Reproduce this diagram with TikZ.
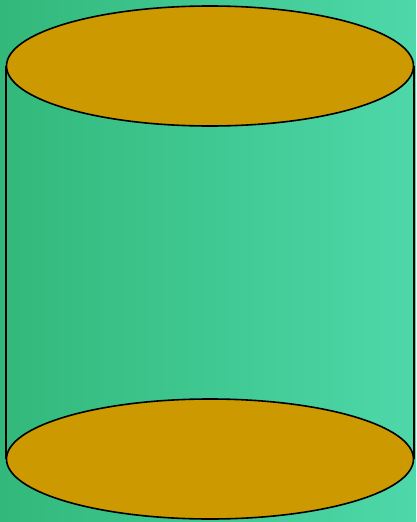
\documentclass[tikz,border=0pt]{standalone}
\usetikzlibrary{shapes.geometric}
\definecolor{bgL}{RGB}{50,184,122}
\definecolor{bgR}{RGB}{78,216,170}
\definecolor{gold}{RGB}{204,153,0}
\tikzset{lidshape/.style={draw=black,line width=1.6pt,fill=gold,ellipse,inner sep=0pt,minimum width=407pt,minimum height=120pt},sideline/.style={draw=black,line width=1.2pt}}
\begin{document}
\begin{tikzpicture}[x=1pt,y=-1pt]
\useasboundingbox (0,0) rectangle (416,522);
\shade[left color=bgL,right color=bgR] (0,0) rectangle (416,522);
\coordinate (tl) at (6,66);
\coordinate (bl) at (6,459);
\coordinate (tr) at (414,66);
\coordinate (br) at (414,459);
\draw[sideline] (tl) -- (bl);
\draw[sideline] (tr) -- (br);
\node[lidshape] (bot) at (210,459) {};
\node[lidshape] (top) at (210,66) {};
\end{tikzpicture}
\end{document}
